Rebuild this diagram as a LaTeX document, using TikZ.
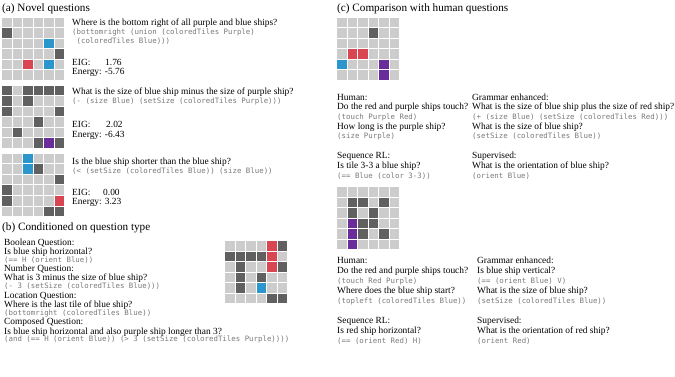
\documentclass[tikz,border=0pt]{standalone}
\usepackage{fontspec}
\setmainfont{Liberation Serif}
\newfontfamily\codefont{DejaVu Sans Mono}
\usepackage{tikz}
\usetikzlibrary{positioning}

\definecolor{tilegray}{RGB}{204,204,204}
\definecolor{tiledark}{RGB}{96,96,96}
\definecolor{shipblue}{RGB}{42,150,204}
\definecolor{shipred}{RGB}{216,70,82}
\definecolor{shippurple}{RGB}{106,44,154}
\definecolor{codegray}{RGB}{122,122,122}

\tikzset{
    paneltitle/.style={anchor=west, inner sep=0pt, font=\fontsize{11.2pt}{13pt}\selectfont},
    qtext/.style={anchor=west, inner sep=0pt, font=\fontsize{9.4pt}{11pt}\selectfont},
    codetext/.style={anchor=west, inner sep=0pt, text=codegray, font=\codefont\fontsize{7.4pt}{9pt}\selectfont},
}

% board: top-left x, top-left y, list of col/row/colour
\newcommand{\shipboard}[3]{
    \foreach \c in {0,...,5}
        \foreach \r in {0,...,5}
            \fill[tilegray] ({#1+\c*10.5},{#2+\r*10.5}) rectangle ++(9.5,9.5);
    \foreach \c/\r/\k in {#3}
        \fill[\k] ({#1+\c*10.5},{#2+\r*10.5}) rectangle ++(9.5,9.5);
}

\begin{document}
\begin{tikzpicture}[x=1pt, y=-1pt]
    \useasboundingbox (0,0) rectangle (675,377);

    % (a) novel questions
    \node[paneltitle] (titleA) at (2,9) {(a) Novel questions};

    \shipboard{2}{18}{0/1/tiledark, 4/2/shipblue, 5/3/tiledark, 2/4/shipred, 4/4/shipblue}
    \node[qtext] (qA1) at (72,23) {Where is the bottom right of all purple and blue ships?};
    \node[codetext] (cA1) at (72,32) {(bottomright (union (coloredTiles Purple)};
    \node[codetext] (cA1b) at (76.4,41) {(coloredTiles Blue)))};
    \node[qtext] (eigA1) at (72,62) {EIG:};
    \node[qtext] (eigvA1) at (105,62) {1.76};
    \node[qtext] (enA1) at (72,72) {Energy: -5.76};

    \shipboard{2}{86}{0/0/tiledark, 2/0/tiledark, 3/0/tiledark, 4/0/tiledark, 5/0/tiledark,
        0/1/tiledark, 2/1/tiledark, 0/2/tiledark, 5/2/tiledark, 3/3/tiledark, 1/4/tiledark,
        3/5/tiledark, 4/5/shippurple, 5/5/tiledark}
    \node[qtext] (qA2) at (72,92) {What is the size of blue ship minus the size of purple ship?};
    \node[codetext] (cA2) at (72,101) {(- (size Blue) (setSize (coloredTiles Purple)))};
    \node[qtext] (eigA2) at (72,124) {EIG:};
    \node[qtext] (eigvA2) at (106,124) {2.02};
    \node[qtext] (enA2) at (72,135) {Energy: -6.43};

    \shipboard{2}{154}{2/0/shipblue, 2/1/shipblue, 3/1/tiledark, 5/2/tiledark, 0/3/tiledark,
        0/4/tiledark, 5/4/shipred, 4/5/tiledark, 5/5/tiledark}
    \node[qtext] (qA3) at (72,162) {Is the blue ship shorter than the blue ship?};
    \node[codetext] (cA3) at (72,171) {(< (setSize (coloredTiles Blue)) (size Blue))};
    \node[qtext] (eigA3) at (72,192) {EIG:};
    \node[qtext] (eigvA3) at (103,192) {0.00};
    \node[qtext] (enA3) at (72,202) {Energy: 3.23};

    % (b) conditioned on question type
    \node[paneltitle] (titleB) at (2,228) {(b) Conditioned on question type};

    \node[qtext] (lbBool) at (4,243) {Boolean Question:};
    \node[qtext] (qBool) at (4,252) {Is blue ship horizontal?};
    \node[codetext] (cBool) at (4,260) {(== H (orient Blue))};
    \node[qtext] (lbNum) at (4,269) {Number Question:};
    \node[qtext] (qNum) at (4,278) {What is 3 minus the size of blue ship?};
    \node[codetext] (cNum) at (4,286) {(- 3 (setSize (coloredTiles Blue)))};
    \node[qtext] (lbLoc) at (4,296) {Location Question:};
    \node[qtext] (qLoc) at (4,305) {Where is the last tile of blue ship?};
    \node[codetext] (cLoc) at (4,313) {(bottomright (coloredTiles Blue))};
    \node[qtext] (lbComp) at (4,322) {Composed Question:};
    \node[qtext] (qComp) at (4,332) {Is blue ship horizontal and also purple ship longer than 3?};
    \node[codetext] (cComp) at (4,339) {(and (== H (orient Blue)) (> 3 (setSize (coloredTiles Purple))))};

    \shipboard{225}{241}{4/0/shipred, 5/0/tiledark, 0/1/tiledark, 1/1/tiledark, 2/1/tiledark,
        3/1/tiledark, 4/1/shipred, 1/2/tiledark, 4/2/shipred, 5/2/tiledark, 1/3/tiledark,
        3/3/tiledark, 1/4/tiledark, 3/4/shipblue, 4/5/tiledark, 5/5/tiledark}

    % (c) comparison with human questions
    \node[paneltitle] (titleC) at (337,9) {(c) Comparison with human questions};

    \shipboard{337}{18}{3/1/tiledark, 1/3/shipred, 2/3/shipred, 0/4/shipblue, 4/4/shippurple,
        4/5/shippurple}
    \node[qtext] (lbHumA) at (337,97) {Human:};
    \node[qtext] (qHumA1) at (337,107) {Do the red and purple ships touch?};
    \node[codetext] (cHumA1) at (337,117) {(touch Purple Red)};
    \node[qtext] (qHumA2) at (337,127) {How long is the purple ship?};
    \node[codetext] (cHumA2) at (337,136) {(size Purple)};
    \node[qtext] (lbSeqA) at (337,156) {Sequence RL:};
    \node[qtext] (qSeqA) at (337,166) {Is tile 3-3 a blue ship?};
    \node[codetext] (cSeqA) at (337,176) {(== Blue (color 3-3))};

    \node[qtext] (lbGramA) at (472,97) {Grammar enhanced:};
    \node[qtext] (qGramA1) at (472,107) {What is the size of blue ship plus the size of red ship?};
    \node[codetext] (cGramA1) at (472,117) {(+ (size Blue) (setSize (coloredTiles Red)))};
    \node[qtext] (qGramA2) at (472,127) {What is the size of blue ship?};
    \node[codetext] (cGramA2) at (472,136) {(setSize (coloredTiles Blue))};
    \node[qtext] (lbSupA) at (472,156) {Supervised:};
    \node[qtext] (qSupA) at (472,166) {What is the orientation of blue ship?};
    \node[codetext] (cSupA) at (472,176) {(orient Blue)};

    \shipboard{337}{187}{1/1/tiledark, 2/1/tiledark, 4/1/tiledark, 1/2/tiledark, 3/2/tiledark,
        1/3/shippurple, 2/3/tiledark, 3/3/tiledark, 1/4/shippurple, 2/4/tiledark, 4/4/tiledark,
        1/5/shippurple}
    \node[qtext] (lbHumB) at (337,260) {Human:};
    \node[qtext] (qHumB1) at (337,271) {Do the red and purple ships touch?};
    \node[codetext] (cHumB1) at (337,281) {(touch Red Purple)};
    \node[qtext] (qHumB2) at (337,291) {Where does the blue ship start?};
    \node[codetext] (cHumB2) at (337,301) {(topleft (coloredTiles Blue))};
    \node[qtext] (lbSeqB) at (337,321) {Sequence RL:};
    \node[qtext] (qSeqB) at (337,331) {Is red ship horizontal?};
    \node[codetext] (cSeqB) at (337,341) {(== (orient Red) H)};

    \node[qtext] (lbGramB) at (477,260) {Grammar enhanced:};
    \node[qtext] (qGramB1) at (477,271) {Is blue ship vertical?};
    \node[codetext] (cGramB1) at (477,281) {(== (orient Blue) V)};
    \node[qtext] (qGramB2) at (477,291) {What is the size of blue ship?};
    \node[codetext] (cGramB2) at (477,301) {(setSize (coloredTiles Blue))};
    \node[qtext] (lbSupB) at (477,321) {Supervised:};
    \node[qtext] (qSupB) at (477,331) {What is the orientation of red ship?};
    \node[codetext] (cSupB) at (477,341) {(orient Red)};
\end{tikzpicture}
\end{document}
